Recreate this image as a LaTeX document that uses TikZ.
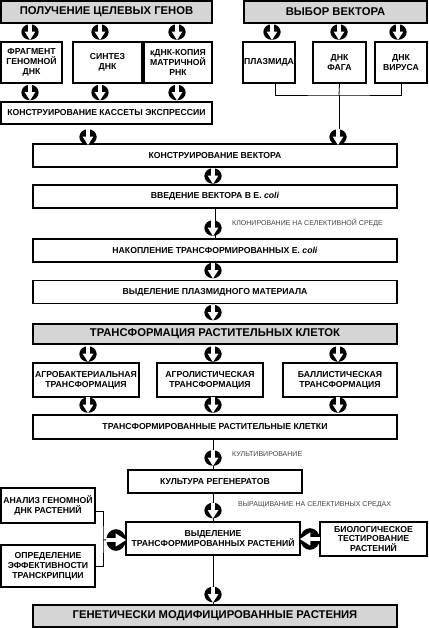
\documentclass[tikz,border=0pt]{standalone}
\usepackage{fontspec}
\setmainfont{Liberation Sans}
\usepackage{tikz}
\usetikzlibrary{calc}

\tikzset{
  box/.style={draw, line width=1.1pt, fill=white, align=center, inner sep=1pt,
    font=\fontsize{7.4}{8.4}\selectfont\bfseries},
  headbox/.style={box, fill=gray!33, font=\fontsize{9.6}{11}\selectfont\bfseries},
  wide/.style={minimum width=10.92cm, minimum height=0.69cm},
  note/.style={anchor=west, inner sep=0pt, text=black!75,
    font=\fontsize{6}{6.5}\selectfont},
  link/.style={line width=0.7pt},
  downpin/.pic={
    \fill[black] (0,0) ellipse (0.26cm and 0.235cm);
    \fill[white] (-0.05cm,0.24cm) rectangle (0.05cm,-0.01cm);
    \fill[white] (-0.16cm,0.01cm) -- (0.16cm,0.01cm) -- (0,-0.24cm) -- cycle;
  }
}

\begin{document}
\begin{tikzpicture}[x=0.03cm, y=-0.03cm]
\useasboundingbox (0,0) rectangle (428,628);

% upper part: genes and vector
\node[headbox, minimum width=6.33cm, minimum height=0.66cm] (genes) at (106.5,12) {ПОЛУЧЕНИЕ ЦЕЛЕВЫХ ГЕНОВ};
\node[headbox, minimum width=5.49cm, minimum height=0.66cm] (vector) at (335.5,12) {ВЫБОР ВЕКТОРА};
\node[box, minimum width=1.83cm, minimum height=1.23cm] (frag) at (31.5,62.5) {ФРАГМЕНТ\\ГЕНОМНОЙ\\ДНК};
\node[box, minimum width=2.07cm, minimum height=1.23cm] (synth) at (107.5,62.5) {СИНТЕЗ\\ДНК};
\node[box, minimum width=2.04cm, minimum height=1.23cm] (cdna) at (178,62.5) {кДНК-КОПИЯ\\МАТРИЧНОЙ\\РНК};
\node[box, minimum width=1.5cm, minimum height=1.23cm] (plasm) at (269,62.5) {ПЛАЗМИДА};
\node[box, minimum width=1.59cm, minimum height=1.23cm] (phage) at (339.5,62.5) {ДНК\\ФАГА};
\node[box, minimum width=1.56cm, minimum height=1.23cm] (virus) at (401,62.5) {ДНК\\ВИРУСА};
\node[box, minimum width=6.33cm, minimum height=0.66cm] (cassette) at (106.5,113) {КОНСТРУИРОВАНИЕ КАССЕТЫ ЭКСПРЕССИИ};

\foreach \x in {30,100,177} {
  \pic at (\x,32) {downpin};
  \pic at (\x,92.5) {downpin};
}
\foreach \x in {272,339,398}
  \pic at (\x,32) {downpin};

% joining the vectors
\coordinate (vjoin) at (339,95);
\draw[link] ($(plasm.south)+(6,0)$) |- (vjoin) -| (virus.south);
\draw[link] (phage.south) -- (vjoin);

% bacterial part
\node[box, wide] (build) at (215,155.5) {КОНСТРУИРОВАНИЕ ВЕКТОРА};
\node[box, wide] (intro) at (215,196.5) {ВВЕДЕНИЕ ВЕКТОРА В E. \textit{coli}};
\node[box, wide] (accum) at (215,250.5) {НАКОПЛЕНИЕ ТРАНСФОРМИРОВАННЫХ E. \textit{coli}};
\node[box, wide] (plasmat) at (215,292) {ВЫДЕЛЕНИЕ ПЛАЗМИДНОГО МАТЕРИАЛА};
\node[headbox, wide, minimum height=0.6cm] (transf) at (215,334) {ТРАНСФОРМАЦИЯ РАСТИТЕЛЬНЫХ КЛЕТОК};

\draw[link] (vjoin) -- (vjoin |- build.north);
\draw[link] (intro) -- (accum);
\pic at (88,137) {downpin};
\pic at (338,137) {downpin};
\pic at (213,176) {downpin};
\pic at (213,228) {downpin};
\pic at (213,270.5) {downpin};
\pic at (213,312.5) {downpin};
\node[note] (clone) at (232,223) {КЛОНИРОВАНИЕ НА СЕЛЕКТИВНОЙ СРЕДЕ};

% plant part
\node[box, minimum width=3.18cm, minimum height=1.02cm] (agro) at (86,380) {АГРОБАКТЕРИАЛЬНАЯ\\ТРАНСФОРМАЦИЯ};
\node[box, minimum width=3.18cm, minimum height=1.02cm] (biol) at (210,380) {АГРОЛИСТИЧЕСКАЯ\\ТРАНСФОРМАЦИЯ};
\node[box, minimum width=3.42cm, minimum height=1.02cm] (ball) at (340,380) {БАЛЛИСТИЧЕСКАЯ\\ТРАНСФОРМАЦИЯ};
\node[box, wide, minimum height=0.72cm] (cells) at (215,427) {ТРАНСФОРМИРОВАННЫЕ РАСТИТЕЛЬНЫЕ КЛЕТКИ};
\node[box, minimum width=5.22cm, minimum height=0.69cm] (regen) at (215,481.5) {КУЛЬТУРА РЕГЕНЕРАТОВ};
\node[box, minimum width=5.22cm, minimum height=0.99cm] (select) at (213,538.5) {ВЫДЕЛЕНИЕ\\ТРАНСФОРМИРОВАННЫХ РАСТЕНИЙ};
\node[box, minimum width=2.82cm, minimum height=1.05cm] (genan) at (48,505.5) {АНАЛИЗ ГЕНОМНОЙ\\ДНК РАСТЕНИЙ};
\node[box, minimum width=2.82cm, minimum height=1.26cm] (expr) at (48,566) {ОПРЕДЕЛЕНИЕ\\ЭФФЕКТИВНОСТИ\\ТРАНСКРИПЦИИ};
\node[box, minimum width=3.21cm, minimum height=1.02cm] (biotest) at (373.5,539) {БИОЛОГИЧЕСКОЕ\\ТЕСТИРОВАНИЕ\\РАСТЕНИЙ};
\node[headbox, wide, minimum height=0.66cm] (gmo) at (215,616) {ГЕНЕТИЧЕСКИ МОДИФИЦИРОВАННЫЕ РАСТЕНИЯ};

\foreach \x in {88,213,338} {
  \pic at (\x,354) {downpin};
  \pic at (\x,405) {downpin};
}
\draw[link] (cells.south -| 213,0) -- (regen.north -| 213,0);
\draw[link] (regen.south -| 213,0) -- (select.north);
\draw[link] (select) -- (select |- gmo.north);
\pic at (213,458) {downpin};
\pic at (213,510.5) {downpin};
\pic at (213,594.5) {downpin};
\node[note] (cult) at (232,454) {КУЛЬТИВИРОВАНИЕ};
\node[note] (grow) at (238,505) {ВЫРАЩИВАНИЕ НА СЕЛЕКТИВНЫХ СРЕДАХ};

% analysis of the plants
\coordinate (ajoin) at (103,540);
\draw[link] ($(genan.east)+(0,6)$) -| (ajoin) |- (expr.east);
\draw[link] (ajoin) -- (select.west);
\pic[rotate=90, scale=1.25] at (116,540) {downpin};
\pic[rotate=-90, scale=1.25] at (310,539) {downpin};
\end{tikzpicture}
\end{document}
